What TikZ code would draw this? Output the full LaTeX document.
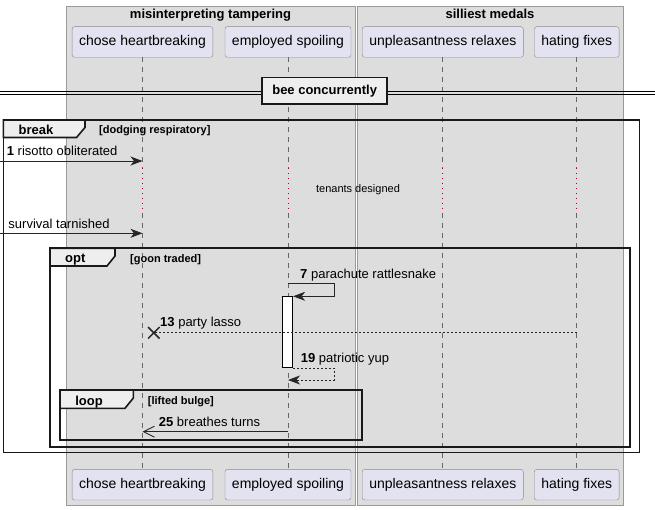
\documentclass[tikz,border=0pt]{standalone}
\usepackage{fontspec}
\setmainfont{Liberation Sans}
\usetikzlibrary{arrows.meta,shapes.misc}
\definecolor{grpfill}{HTML}{DDDDDD}
\definecolor{grpline}{HTML}{9A9A9A}
\definecolor{partfill}{HTML}{E2E2F0}
\definecolor{partline}{HTML}{8A8A8A}
\definecolor{tabfill}{HTML}{EEEEEE}
\definecolor{lifegray}{HTML}{666666}
\definecolor{dlyred}{HTML}{A80036}

\begin{document}
\begin{tikzpicture}[x=1pt,y=-1pt,
  grpbox/.style={draw=grpline,fill=grpfill,line width=0.8pt},
  grptitle/.style={anchor=base,inner sep=0pt,font=\fontsize{13}{15}\selectfont\bfseries},
  part/.style={draw=partline,fill=partfill,rounded corners=2.5pt,minimum height=30.6pt,inner xsep=7pt,font=\fontsize{14}{16}\selectfont},
  life/.style={draw=lifegray,line width=0.7pt,dash pattern=on 5pt off 5pt},
  delay/.style={draw=dlyred,line width=0.9pt,dash pattern=on 1pt off 4pt},
  act/.style={draw,fill=white,line width=0.8pt,minimum width=10pt,minimum height=71pt,inner sep=0pt},
  msg/.style={draw=black!85,line width=0.9pt,-{Stealth[length=12pt,width=9pt,inset=3.5pt]}},
  reply/.style={msg,dash pattern=on 2pt off 2pt},
  openmsg/.style={draw=black!85,line width=0.9pt,-{Straight Barb[length=11pt,width=11pt]}},
  kill/.style={cross out,draw=black!85,line width=1.5pt,minimum size=10pt,inner sep=0pt},
  msgtext/.style={anchor=base west,inner sep=0pt,font=\fontsize{13}{15}\selectfont},
  dlytext/.style={inner sep=0pt,font=\fontsize{11}{13}\selectfont},
  frame/.style={draw=black!90,line width=1.6pt},
  tab/.style={draw=black!90,fill=tabfill,line width=1.6pt},
  frlabel/.style={anchor=base,inner sep=0pt,font=\fontsize{13}{15}\selectfont\bfseries},
  guard/.style={anchor=base west,inner sep=0pt,font=\fontsize{11}{13}\selectfont\bfseries},
  divbox/.style={draw=black!90,fill=tabfill,line width=1.6pt,minimum width=125pt,minimum height=26.7pt,inner sep=0pt,font=\fontsize{13}{15}\selectfont\bfseries}]
\useasboundingbox (0,0) rectangle (655,510);

\draw[grpbox] (66.7,6.7) rectangle (355.7,505.7);
\draw[grpbox] (357.3,6.7) rectangle (623.3,505.7);
\node[grptitle] (g1) at (210.5,19) {misinterpreting tampering};
\node[grptitle] (g2) at (490,19) {silliest medals};

\node[part] (chT) at (142.5,42) {chose heartbreaking};
\node[part] (esT) at (288,42) {employed spoiling};
\node[part] (urT) at (442.8,42) {unpleasantness relaxes};
\node[part] (hfT) at (576.7,42) {hating fixes};
\node[part] (chB) at (142.5,484.7) {chose heartbreaking};
\node[part] (esB) at (288,484.7) {employed spoiling};
\node[part] (urB) at (442.8,484.7) {unpleasantness relaxes};
\node[part] (hfB) at (576.7,484.7) {hating fixes};

\coordinate (dlyA) at (0,168);
\coordinate (dlyB) at (0,213);
\draw[life] (chT.south) -- (chT.south |- dlyA);
\draw[delay] (chT.south |- dlyA) -- (chT.south |- dlyB);
\draw[life] (chT.south |- dlyB) -- (chB.north);
\draw[life] (esT.south) -- (esT.south |- dlyA);
\draw[delay] (esT.south |- dlyA) -- (esT.south |- dlyB);
\draw[life] (esT.south |- dlyB) -- (esB.north);
\draw[life] (urT.south) -- (urT.south |- dlyA);
\draw[delay] (urT.south |- dlyA) -- (urT.south |- dlyB);
\draw[life] (urT.south |- dlyB) -- (urB.north);
\draw[life] (hfT.south) -- (hfT.south |- dlyA);
\draw[delay] (hfT.south |- dlyA) -- (hfT.south |- dlyB);
\draw[life] (hfT.south |- dlyB) -- (hfB.north);

\draw[line width=0.9pt] (0,91) -- (655,91);
\draw[line width=0.9pt] (0,94.3) -- (655,94.3);
\node[divbox] (div) at (324.7,90.7) {bee concurrently};

\draw[frame] (3.3,120) rectangle (639.5,452.3);
\draw[tab] (3.3,120) -- (85,120) -- (85,127.5) -- (76.5,137.5) -- (3.3,137.5) -- cycle;
\node[frlabel] (brk) at (36,135) {break};
\node[guard] (brkG) at (99,134) {[dodging respiratory]};

\coordinate (in1) at (0,161);
\draw[msg] (in1) -- (chT.south |- in1);
\node[msgtext] (t1) at (6.7,156) {\textbf{1} risotto obliterated};

\node[dlytext] (dly) at (358,190) {tenants designed};

\coordinate (in2) at (0,233.3);
\draw[msg] (in2) -- (chT.south |- in2);
\node[msgtext] (t2) at (8.3,228.3) {survival tarnished};

\draw[frame] (50,248.3) rectangle (630,446.7);
\draw[tab] (50,248.3) -- (115,248.3) -- (115,256) -- (107,266) -- (50,266) -- cycle;
\node[frlabel] (opt) at (75.3,262.7) {opt};
\node[guard] (optG) at (130,262) {[goon traded]};

\node[act] (act) at (287.7,332.2) {};

\coordinate (s7) at (334.3,283.3);
\draw[msg] (esT.south |- s7) -- (s7) |- (act.north east);
\node[msgtext] (t7) at (300,278.3) {\textbf{7} parachute rattlesnake};

\node[kill] (kill) at (153.8,332.8) {};
\draw[draw=black!85,line width=0.8pt,dash pattern=on 2pt off 2pt] (hfT.south |- kill) -- (kill.center);
\node[msgtext] (t13) at (160,326.7) {\textbf{13} party lasso};

\coordinate (s19) at (334.3,380);
\draw[reply] (act.south east) -| (s19) -- (esT.south |- s19);
\node[msgtext] (t19) at (300.7,362.7) {\textbf{19} patriotic yup};

\draw[frame] (60,390) rectangle (361.7,440);
\draw[tab] (60,390) -- (133.3,390) -- (133.3,398) -- (125,408.3) -- (60,408.3) -- cycle;
\node[frlabel] (lp) at (89,405) {loop};
\node[guard] (lpG) at (147.7,404.7) {[lifted bulge]};

\coordinate (m25) at (0,431.7);
\draw[openmsg] (esT.south |- m25) -- (chT.south |- m25);
\node[msgtext] (t25) at (158.7,426.7) {\textbf{25} breathes turns};
\end{tikzpicture}
\end{document}
